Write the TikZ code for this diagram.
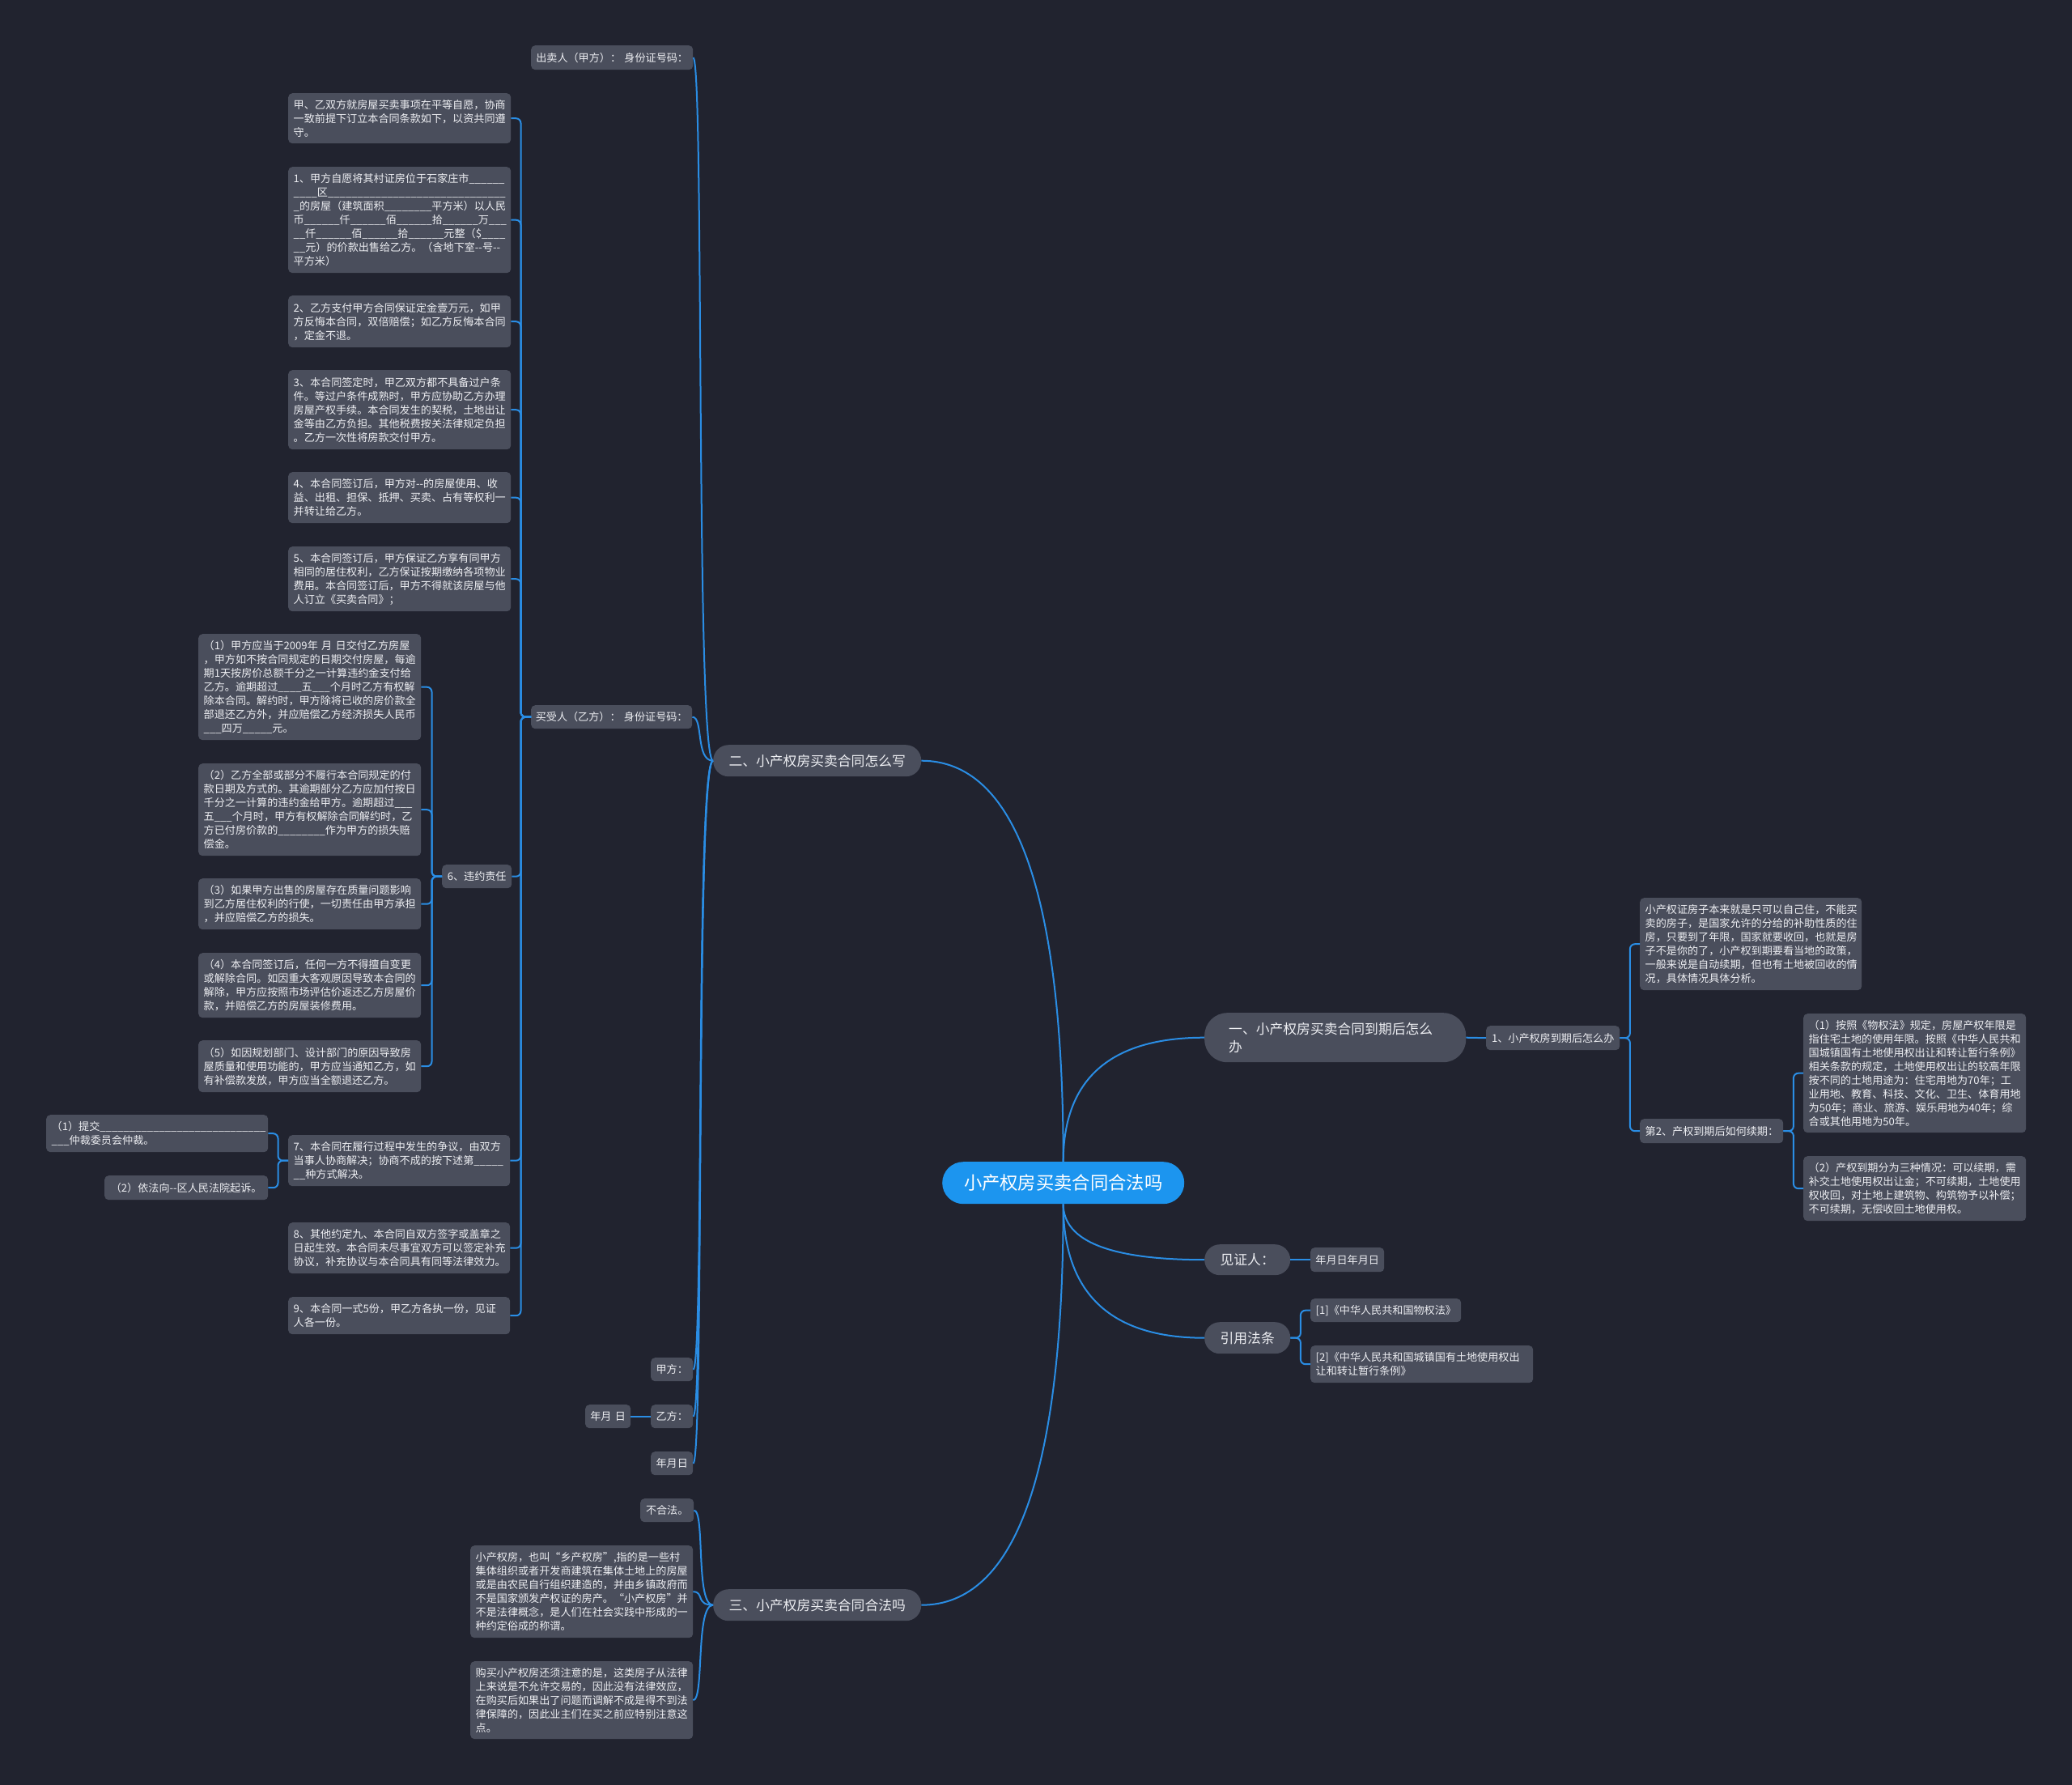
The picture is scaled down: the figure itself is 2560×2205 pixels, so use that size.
\documentclass[tikz,border=0pt]{standalone}
\usepackage{fontspec}
\setmainfont{Noto Sans CJK SC}
\usetikzlibrary{calc}
\definecolor{bg}{HTML}{21232F}
\definecolor{nodefill}{HTML}{4A4E5C}
\definecolor{rootfill}{HTML}{1C95EF}
\definecolor{linec}{HTML}{2A8DE4}
\definecolor{txt}{HTML}{EDEEF2}
\tikzset{
  leaf/.style={draw=none, fill=nodefill, rounded corners=5pt, text=txt,
    font=\fontsize{13.1}{17}\selectfont, inner xsep=6.5pt, inner ysep=3pt, align=left},
  shortleaf/.style={leaf, align=center},
  mainnode/.style={leaf, rounded corners=19pt, font=\fontsize{16.8}{22}\selectfont, align=center},
  rootnode/.style={leaf, fill=rootfill, text=white, rounded corners=26pt,
    font=\fontsize{22.3}{26}\selectfont, align=center},
  conn/.style={draw=linec, line width=2pt},
  bracket/.style={conn, rounded corners=6pt},
}
\newcommand\leafnode[7][]{%
  \pgfmathsetmacro\nbw{#5-#3}\pgfmathsetmacro\nbh{#6-#4}\pgfmathsetmacro\nbt{#5-#3-13}%
  \node[leaf, anchor=north west, minimum width=\nbw pt, minimum height=\nbh pt,
        text width=\nbt pt, #1] (#2) at (#3,#4) {#7};}
\newcommand\rootcurve[2]{\draw[conn] (#1) .. controls ($(#1)!2/3!(#1 |- #2)$) and ($(#2)!2/3!(#1 |- #2)$) .. (#2);}
\newcommand\scurve[2]{\draw[conn] (#1.west) .. controls +(-22,0) and +(14,0) .. (#2.east);}
\newcommand\brL[2]{\draw[bracket] (#1.west) -- ++(-12.5,0) |- (#2.east);}
\newcommand\brR[2]{\draw[bracket] (#1.east) -- ++(12.5,0) |- (#2.west);}
\newcommand\usix{\_\_\_\_\_\_}
\begin{document}
\begin{tikzpicture}[x=1pt,y=-1pt]
\fill[bg] (0,0) rectangle (2560,2205);
\useasboundingbox (0,0) rectangle (2560,2205);

% ---------- root and first level ----------
\leafnode[rootnode,text width=270pt]{root}{1164}{1435}{1463}{1487}{小产权房买卖合同合法吗}
\leafnode[mainnode,text width=235pt]{two}{881}{920}{1138}{959}{二、小产权房买卖合同怎么写}
\leafnode[mainnode,text width=235pt]{three}{881}{1963}{1138}{2002}{三、小产权房买卖合同合法吗}
\leafnode[mainnode,align=left,text width=263pt,inner xsep=30pt,rounded corners=28pt]{one}{1488}{1251}{1811}{1312}{一、小产权房买卖合同到期后怎么\\办}
\leafnode[mainnode,text width=85pt]{wit}{1488}{1537}{1594}{1575}{见证人：}
\leafnode[mainnode,text width=85pt]{law}{1488}{1633}{1594}{1672}{引用法条}

% ---------- branch 二 ----------
\leafnode[shortleaf,inner xsep=2pt,text width=196pt]{seller}{656}{56}{856}{86}{出卖人（甲方）：~身份证号码：}
\leafnode[shortleaf,inner xsep=2pt,text width=195pt]{buyer}{656}{871}{855}{900}{买受人（乙方）：~身份证号码：}
\leafnode[shortleaf,inner xsep=2pt,text width=48pt]{pa}{804}{1677}{856}{1706}{甲方：}
\leafnode[shortleaf,inner xsep=2pt,text width=48pt]{pb}{804}{1735}{856}{1764}{乙方：}
\leafnode[shortleaf,inner xsep=2pt,text width=48pt]{pdate}{804}{1793}{856}{1822}{年月日}
\leafnode[shortleaf,inner xsep=2pt,text width=52pt]{pbdate}{723}{1735}{779}{1764}{年月~日}

\leafnode{c0}{356}{115}{631}{177}{甲、乙双方就房屋买卖事项在平等自愿，协商\\一致前提下订立本合同条款如下，以资共同遵\\守。}
\leafnode{c1}{356}{206}{631}{337}{1、甲方自愿将其村证房位于石家庄市\usix\\\_\_\_\_区\usix\usix\usix\usix\usix\\\_的房屋（建筑面积\_\_\_\_\_\_\_\_平方米）以人民\\币\usix 仟\usix 佰\usix 拾\usix 万\_\_\_\\\_\_仟\usix 佰\usix 拾\usix 元整（\$\_\_\_\_\\\_\_元）的价款出售给乙方。（含地下室-{}-号-{}-\\平方米）}
\leafnode{c2}{356}{365}{631}{429}{2、乙方支付甲方合同保证定金壹万元，如甲\\方反悔本合同，双倍赔偿；如乙方反悔本合同\\，定金不退。}
\leafnode{c3}{356}{457}{631}{555}{3、本合同签定时，甲乙双方都不具备过户条\\件。等过户条件成熟时，甲方应协助乙方办理\\房屋产权手续。本合同发生的契税，土地出让\\金等由乙方负担。其他税费按关法律规定负担\\。乙方一次性将房款交付甲方。}
\leafnode{c4}{356}{583}{631}{646}{4、本合同签订后，甲方对-{}-的房屋使用、收\\益、出租、担保、抵押、买卖、占有等权利一\\并转让给乙方。}
\leafnode{c5}{356}{675}{631}{755}{5、本合同签订后，甲方保证乙方享有同甲方\\相同的居住权利，乙方保证按期缴纳各项物业\\费用。本合同签订后，甲方不得就该房屋与他\\人订立《买卖合同》；}
\leafnode[shortleaf,inner xsep=3pt,text width=80pt]{c6}{546}{1068}{631}{1097}{6、违约责任}
\leafnode{c7}{356}{1402}{630}{1465}{7、本合同在履行过程中发生的争议，由双方\\当事人协商解决；协商不成的按下述第\_\_\_\_\_\\\_\_种方式解决。}
\leafnode{c8}{356}{1510}{630}{1573}{8、其他约定九、本合同自双方签字或盖章之\\日起生效。本合同未尽事宜双方可以签定补充\\协议，补充协议与本合同具有同等法律效力。}
\leafnode{c9}{356}{1602}{630}{1648}{9、本合同一式5份，甲乙方各执一份，见证\\人各一份。}

\leafnode{v1}{245}{783}{520}{914}{（1）甲方应当于2009年 月 日交付乙方房屋\\，甲方如不按合同规定的日期交付房屋，每逾\\期1天按房价总额千分之一计算违约金支付给\\乙方。逾期超过\_\_\_\_五\_\_\_个月时乙方有权解\\除本合同。解约时，甲方除将已收的房价款全\\部退还乙方外，并应赔偿乙方经济损失人民币\\\_\_\_四万\_\_\_\_\_元。}
\leafnode{v2}{245}{943}{520}{1057}{（2）乙方全部或部分不履行本合同规定的付\\款日期及方式的。其逾期部分乙方应加付按日\\千分之一计算的违约金给甲方。逾期超过\_\_\_\\五\_\_\_个月时，甲方有权解除合同解约时，乙\\方已付房价款的\_\_\_\_\_\_\_\_作为甲方的损失赔\\偿金。}
\leafnode{v3}{245}{1085}{520}{1148}{（3）如果甲方出售的房屋存在质量问题影响\\到乙方居住权利的行使，一切责任由甲方承担\\，并应赔偿乙方的损失。}
\leafnode{v4}{245}{1177}{520}{1257}{（4）本合同签订后，任何一方不得擅自变更\\或解除合同。如因重大客观原因导致本合同的\\解除，甲方应按照市场评估价返还乙方房屋价\\款，并赔偿乙方的房屋装修费用。}
\leafnode{v5}{245}{1285}{520}{1349}{（5）如因规划部门、设计部门的原因导致房\\屋质量和使用功能的，甲方应当通知乙方，如\\有补偿款发放，甲方应当全额退还乙方。}

\leafnode{d1}{57}{1377}{331}{1423}{（1）提交\usix\usix\usix\usix\_\_\_\_\\\_\_\_仲裁委员会仲裁。}
\leafnode[shortleaf]{d2}{129}{1452}{331}{1482}{（2）依法向-{}-区人民法院起诉。}

% ---------- branch 三 ----------
\leafnode[shortleaf,inner xsep=3pt,text width=60pt]{t0}{791}{1851}{856}{1880}{不合法。}
\leafnode{t1}{581}{1909}{856}{2023}{小产权房，也叫“乡产权房”,指的是一些村\\集体组织或者开发商建筑在集体土地上的房屋\\或是由农民自行组织建造的，并由乡镇政府而\\不是国家颁发产权证的房产。“小产权房”并\\不是法律概念，是人们在社会实践中形成的一\\种约定俗成的称谓。}
\leafnode{t2}{581}{2052}{856}{2148}{购买小产权房还须注意的是，这类房子从法律\\上来说是不允许交易的，因此没有法律效应，\\在购买后如果出了问题而调解不成是得不到法\\律保障的，因此业主们在买之前应特别注意这\\点。}

% ---------- branch 一 ----------
\leafnode[shortleaf]{o1}{1836}{1267}{2001}{1297}{1、小产权房到期后怎么办}
\leafnode{o11}{2026}{1109}{2300}{1223}{小产权证房子本来就是只可以自己住，不能买\\卖的房子，是国家允许的分给的补助性质的住\\房，只要到了年限，国家就要收回，也就是房\\子不是你的了，小产权到期要看当地的政策，\\一般来说是自动续期，但也有土地被回收的情\\况，具体情况具体分析。}
\leafnode[shortleaf]{o12}{2026}{1382}{2203}{1412}{第2、产权到期后如何续期：}
\leafnode{o121}{2228}{1252}{2503}{1399}{（1）按照《物权法》规定，房屋产权年限是\\指住宅土地的使用年限。按照《中华人民共和\\国城镇国有土地使用权出让和转让暂行条例》\\相关条款的规定，土地使用权出让的较高年限\\按不同的土地用途为：住宅用地为70年；工\\业用地、教育、科技、文化、卫生、体育用地\\为50年；商业、旅游、娱乐用地为40年；综\\合或其他用地为50年。}
\leafnode{o122}{2228}{1428}{2503}{1508}{（2）产权到期分为三种情况：可以续期，需\\补交土地使用权出让金；不可续期，土地使用\\权收回，对土地上建筑物、构筑物予以补偿；\\不可续期，无偿收回土地使用权。}

% ---------- 见证人 / 引用法条 ----------
\leafnode[shortleaf,inner xsep=3pt,text width=85pt]{w1}{1619}{1541}{1710}{1571}{年月日年月日}
\leafnode[shortleaf]{l1}{1619}{1604}{1805}{1633}{[1]《中华人民共和国物权法》}
\leafnode{l2}{1619}{1662}{1894}{1708}{[2]《中华人民共和国城镇国有土地使用权出\\让和转让暂行条例》}

% ---------- connectors ----------
\rootcurve{root.north}{two.east}
\rootcurve{root.north}{one.west}
\rootcurve{root.south}{wit.west}
\rootcurve{root.south}{law.west}
\rootcurve{root.south}{three.east}

\scurve{two}{seller}
\scurve{two}{buyer}
\scurve{two}{pa}
\scurve{two}{pb}
\scurve{two}{pdate}
\draw[conn] (pb.west) -- (pbdate.east);

\foreach \c in {c0,c1,c2,c3,c4,c5,c6,c7,c8,c9} {\brL{buyer}{\c}}
\foreach \c in {v1,v2,v3,v4,v5} {\brL{c6}{\c}}
\foreach \c in {d1,d2} {\brL{c7}{\c}}

\scurve{three}{t0}
\scurve{three}{t1}
\scurve{three}{t2}

\draw[conn] (one.east) -- (o1.west);
\brR{o1}{o11}
\brR{o1}{o12}
\brR{o12}{o121}
\brR{o12}{o122}

\draw[conn] (wit.east) -- (w1.west);
\brR{law}{l1}
\brR{law}{l2}
\end{tikzpicture}
\end{document}
